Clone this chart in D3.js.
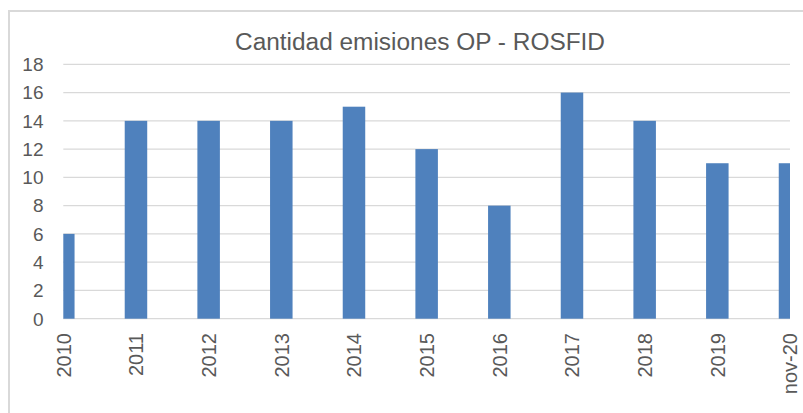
<!DOCTYPE html>
<html>
<head>
<meta charset="utf-8">
<title>Cantidad emisiones OP - ROSFID</title>
<script src="https://d3js.org/d3.v7.min.js"></script>
<style>
  body { margin: 0; background: #fff; }
  text { font-family: "Liberation Sans", Arial, sans-serif; fill: #595959; }
</style>
</head>
<body>
<svg id="chart" width="803" height="413"></svg>
<script>
// data
var periods = ["2010", "2011", "2012", "2013", "2014", "2015", "2016", "2017", "2018", "2019", "nov-20"];
var emisiones = [6, 14, 14, 14, 15, 12, 8, 16, 14, 11, 11];
var yTicks = [0, 2, 4, 6, 8, 10, 12, 14, 16, 18];

var svg = d3.select("#chart");

// chart frame (cut off at right and bottom like the original)
svg.append("rect").attr("x", 9).attr("y", 11).attr("width", 820).attr("height", 430)
   .style("fill", "none").style("stroke", "#d9d9d9").style("stroke-width", 2);

var x = d3.scalePoint().domain(periods).range([63.3, 790]);
var y = d3.scaleLinear().domain([0, 18]).range([318.7, 64.3]);
var barW = 22.5;

// clip so first/last bars are half shown
svg.append("clipPath").attr("id", "plot").append("rect")
   .attr("x", 63.3).attr("y", 0).attr("width", 790 - 63.3).attr("height", 413);

// gridlines
svg.append("g").selectAll("line").data(yTicks).enter().append("line")
   .attr("x1", 63.3).attr("x2", 790)
   .attr("y1", function(d) { return y(d); }).attr("y2", function(d) { return y(d); })
   .style("stroke", "#d9d9d9").style("stroke-width", 1.3);

// bars
svg.append("g").attr("clip-path", "url(#plot)").selectAll("rect").data(emisiones).enter().append("rect")
   .attr("x", function(d, i) { return x(periods[i]) - barW / 2; })
   .attr("width", barW)
   .attr("y", function(d) { return y(d); })
   .attr("height", function(d) { return y(0) - y(d); })
   .style("fill", "#4f81bd");

// y axis labels
svg.append("g").selectAll("text").data(yTicks).enter().append("text")
   .attr("x", 43.5).attr("y", function(d) { return y(d); })
   .attr("dy", "0.36em").attr("text-anchor", "end")
   .style("font-size", "19px").text(function(d) { return d; });

// x axis labels, rotated
svg.append("g").selectAll("text").data(periods).enter().append("text")
   .attr("transform", function(d) { return "translate(" + x(d) + ",333) rotate(-90)"; })
   .attr("dy", "0.36em").attr("text-anchor", "end")
   .style("font-size", "20px").text(function(d) { return d; });

// title
svg.append("text").attr("x", 420).attr("y", 50).attr("text-anchor", "middle")
   .attr("textLength", 370).attr("lengthAdjust", "spacingAndGlyphs")
   .style("font-family", "'Liberation Sans Narrow', 'Liberation Sans', Arial, sans-serif")
   .style("font-size", "23px").text("Cantidad emisiones OP - ROSFID");
</script>
</body>
</html>
